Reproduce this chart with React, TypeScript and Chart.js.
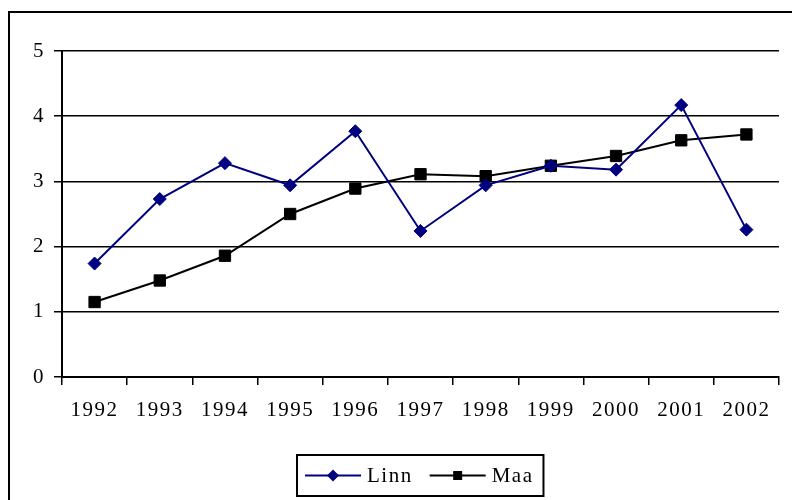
import React, { useEffect, useRef } from "react";
import { Chart, registerables } from "chart.js";

Chart.register(...registerables);

const categories = ["1992", "1993", "1994", "1995", "1996", "1997", "1998", "1999", "2000", "2001", "2002"];
const linnValues = [1.74, 2.73, 3.28, 2.94, 3.77, 2.24, 2.94, 3.24, 3.18, 4.17, 2.26];
const maaValues = [1.15, 1.48, 1.86, 2.5, 2.89, 3.11, 3.08, 3.24, 3.39, 3.63, 3.72];
const seriesLabels = ["Linn", "Maa"];

const FONT = "'Liberation Serif', 'Times New Roman', serif";
const FONT_SIZE = 21;

const framePlugin = {
  id: "frame",
  beforeDraw(chart: any) {
    const ctx = chart.ctx;
    (ctx as any).letterSpacing = "1.5px";
    ctx.save();
    ctx.fillStyle = "#fff";
    ctx.fillRect(0, 0, chart.width, chart.height);
    ctx.strokeStyle = "#000";
    ctx.lineWidth = 2;
    ctx.strokeRect(9, 12, chart.width + 20, chart.height + 20);
    ctx.restore();
  },
  afterDraw(chart: any) {
    const ctx = chart.ctx;
    const area = chart.chartArea;
    ctx.save();
    (ctx as any).letterSpacing = "1.5px";
    ctx.font = `${FONT_SIZE}px ${FONT}`;
    const lineLen = 56;
    const gapText = 6;
    const itemGap = 17;
    const padL = 8;
    const padR = 10;
    const items = chart.data.datasets.map((ds: any) => ({
      ds,
      w: ctx.measureText(ds.label).width,
    }));
    let total = padL + padR;
    items.forEach((it: any, i: number) => {
      total += lineLen + gapText + it.w + (i < items.length - 1 ? itemGap : 0);
    });
    const cx = (area.left + area.right) / 2;
    const boxL = Math.round(cx - total / 2);
    const boxT = 455;
    const boxH = 41;
    ctx.strokeStyle = "#000";
    ctx.lineWidth = 2;
    ctx.strokeRect(boxL, boxT, total, boxH);
    const cy = boxT + boxH / 2;
    let x = boxL + padL;
    items.forEach((it: any, i: number) => {
      const ds = it.ds;
      ctx.strokeStyle = ds.borderColor;
      ctx.lineWidth = 2;
      ctx.beginPath();
      ctx.moveTo(x, cy);
      ctx.lineTo(x + lineLen, cy);
      ctx.stroke();
      const mx = x + lineLen / 2;
      ctx.fillStyle = ds.pointBackgroundColor;
      ctx.beginPath();
      if (ds.pointStyle === "rectRot") {
        const r = 6;
        ctx.moveTo(mx, cy - r);
        ctx.lineTo(mx + r, cy);
        ctx.lineTo(mx, cy + r);
        ctx.lineTo(mx - r, cy);
        ctx.closePath();
      } else {
        const s = 4.5;
        ctx.rect(mx - s, cy - s, 2 * s, 2 * s);
      }
      ctx.fill();
      x += lineLen + gapText;
      ctx.fillStyle = "#000";
      ctx.textBaseline = "middle";
      ctx.textAlign = "left";
      ctx.fillText(ds.label, x, cy + 1);
      x += it.w + (i < items.length - 1 ? itemGap : 0);
    });
    ctx.restore();
  },
};

export default function App() {
  const ref = useRef<HTMLCanvasElement>(null);
  useEffect(() => {
    const canvas = ref.current!;
    const chart = new Chart(canvas, {
      type: "line",
      data: {
        labels: categories,
        datasets: [
          {
            label: seriesLabels[0],
            data: linnValues,
            borderColor: "#000080",
            backgroundColor: "#000080",
            pointBackgroundColor: "#000080",
            pointBorderColor: "#000080",
            pointBorderWidth: 1,
            borderWidth: 2,
            pointStyle: "rectRot",
            pointRadius: 6.5,
            tension: 0,
          },
          {
            label: seriesLabels[1],
            data: maaValues,
            borderColor: "#000000",
            backgroundColor: "#000000",
            pointBackgroundColor: "#000000",
            pointBorderColor: "#000000",
            pointBorderWidth: 1,
            borderWidth: 2,
            pointStyle: "rect",
            pointRadius: 8,
            tension: 0,
          },
        ] as any,
      },
      options: {
        responsive: false,
        animation: false,
        layout: { padding: { left: 0, top: 51, right: 13, bottom: 0 } },
        plugins: { legend: { display: false }, tooltip: { enabled: false } },
        scales: {
          x: {
            offset: true,
            afterFit: (s: any) => {
              s.height = 123;
            },
            grid: {
              display: true,
              drawOnChartArea: false,
              drawTicks: true,
              tickLength: 8,
              color: "#000",
              lineWidth: 1.5,
              offset: true,
            },
            border: { display: true, color: "#000", width: 2 },
            ticks: {
              color: "#000",
              font: { family: FONT, size: FONT_SIZE },
              padding: 13,
              maxRotation: 0,
              autoSkip: false,
            },
          },
          y: {
            min: 0,
            max: 5,
            afterFit: (s: any) => {
              s.width = 62;
            },
            grid: {
              color: "#000",
              lineWidth: 1.5,
              drawTicks: true,
              tickLength: 8,
            },
            border: { display: true, color: "#000", width: 2 },
            ticks: {
              stepSize: 1,
              color: "#000",
              font: { family: FONT, size: FONT_SIZE },
              padding: 9,
            },
          },
        },
      },
      plugins: [framePlugin],
    });
    return () => chart.destroy();
  }, []);
  return (
    <div style={{ position: "fixed", left: 0, top: 0, width: 792, height: 500, background: "#fff" }}>
      <canvas ref={ref} width={792} height={500} style={{ display: "block", width: 792, height: 500 }} />
    </div>
  );
}
